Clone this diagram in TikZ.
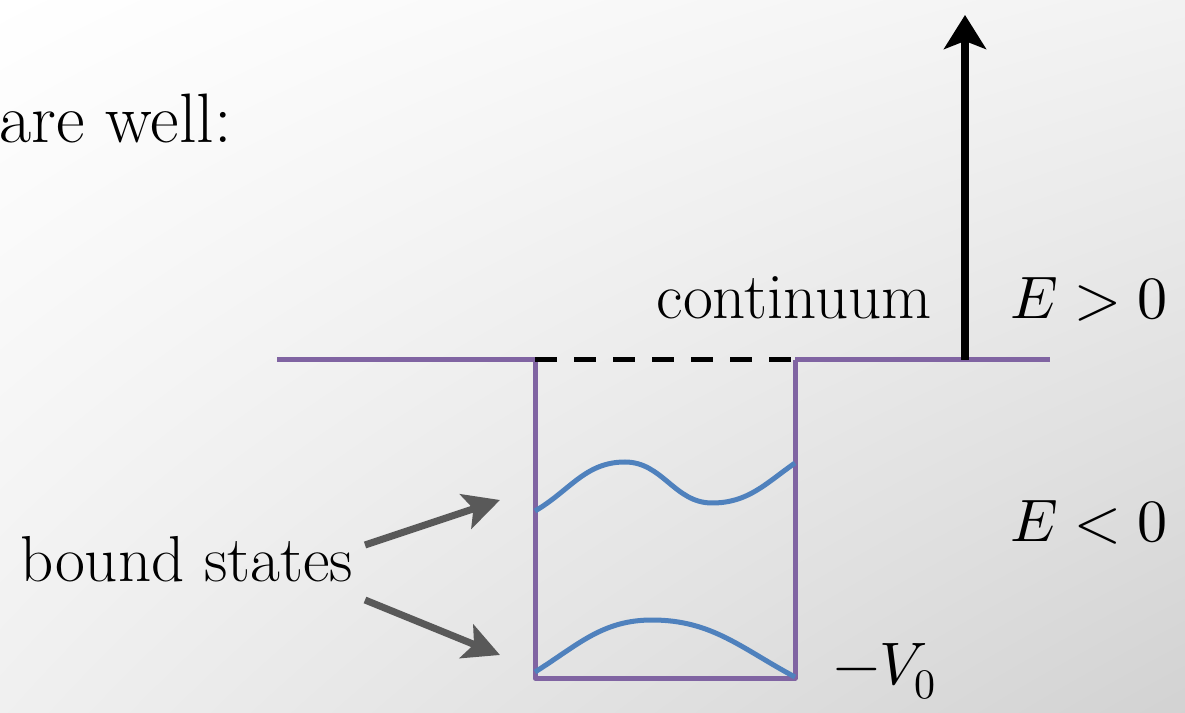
\documentclass[tikz,border=0pt]{standalone}
\usepackage{fontspec}
\usepackage{unicode-math}
\setmathfont{Latin Modern Math}
\usetikzlibrary{arrows.meta,shadings}
\definecolor{wellpurple}{HTML}{8064A2}
\definecolor{waveblue}{HTML}{4F81BD}
\definecolor{arrowgray}{HTML}{595959}
\tikzset{
  wellline/.style={wellpurple, line width=5pt},
  wave/.style={waveblue, line width=5pt},
  ptr/.style={arrowgray, line width=7pt, -{Stealth[length=36pt,width=36pt,inset=8pt]}},
  bigtxt/.style={inner sep=0pt, font=\rmfamily\fontsize{65}{70}\selectfont},
  headtxt/.style={inner sep=0pt, font=\rmfamily\fontsize{70}{76}\selectfont},
  mathtxt/.style={inner sep=0pt, font=\fontsize{60}{70}\selectfont}
}
\begin{document}
\begin{tikzpicture}[x=1pt,y=1pt]
\useasboundingbox (0,0) rectangle (1185,712);
\shade[upper left=white, upper right=gray!10, lower left=gray!12, lower right=gray!35] (0,0) rectangle (1185,712);
% coordinates
\coordinate (L0) at (277,352);
\coordinate (TL) at (535,352);
\coordinate (TR) at (795,352);
\coordinate (R0) at (1050,352);
\coordinate (BL) at (535,34);
\coordinate (BR) at (795,34);
\coordinate (A0) at (965,352);
\coordinate (A1) at (965,697);
\coordinate (p1s) at (365,167);
\coordinate (p1e) at (500,212);
\coordinate (p2s) at (365,112);
\coordinate (p2e) at (500,57);
% texts
\node[headtxt, anchor=base east] (head) at (232,569) {are well:};
\node[bigtxt, anchor=base east] (cont) at (932,393) {continuum};
\node[bigtxt, anchor=base west] (bound) at (20,131) {bound states};
\node[mathtxt, anchor=base west] (Epos) at (1010,393) {$E>0$};
\node[mathtxt, anchor=base west] (Eneg) at (1010,170) {$E<0$};
\node[mathtxt, anchor=base west] (V0) at (833,28) {$-V_0$};
% well
\draw[wellline] (L0) -- (TL);
\draw[wellline] (TR) -- (R0);
\draw[wellline, line join=round] (TL) -- (BL) -- (BR) -- (TR);
\draw[black, line width=5pt, dash pattern=on 22pt off 17pt] (TL) -- (TR);
% waves
\draw[wave] (535,201) to[out=30,in=180] (625,250) to[out=0,in=180] (712,209) to[out=0,in=215] (795,249);
\draw[wave] (535,40) to[out=32,in=180] (652,92) to[out=0,in=152] (795,35);
% arrows
\draw[black, line width=8pt, -{Stealth[length=34pt,width=42pt,inset=8pt]}] (A0) -- (A1);
\draw[ptr] (p1s) -- (p1e);
\draw[ptr] (p2s) -- (p2e);
\end{tikzpicture}
\end{document}
